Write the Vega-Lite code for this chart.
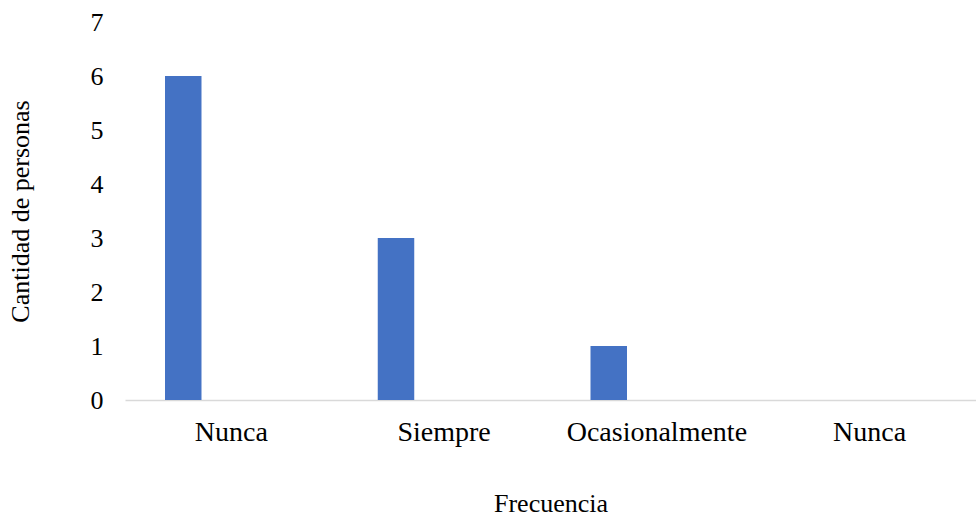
{
  "$schema": "https://vega.github.io/schema/vega-lite/v6.json",
  "autosize": {"type": "none"},
  "padding": {"left": 125, "top": 22, "right": 0, "bottom": 119},
  "width": 851,
  "height": 378,
  "background": "white",
  "config": {
    "view": {"stroke": null},
    "font": "Liberation Serif",
    "axis": {"labelFont": "Liberation Serif", "titleFont": "Liberation Serif", "labelColor": "#000000", "titleColor": "#000000", "titleFontWeight": "normal"}
  },
  "data": {
    "values": [
      {"k": "1", "cat": "Nunca", "serie": "s1", "v": 6},
      {"k": "2", "cat": "Siempre", "serie": "s1", "v": 3},
      {"k": "3", "cat": "Ocasionalmente", "serie": "s1", "v": 1},
      {"k": "4", "cat": "Nunca", "serie": "s1", "v": 0}
    ]
  },
  "mark": {"type": "bar", "color": "#4472C4"},
  "encoding": {
    "x": {
      "field": "k",
      "type": "nominal",
      "sort": null,
      "scale": {"paddingInner": 0, "paddingOuter": 0},
      "axis": {
        "title": "Frecuencia",
        "titleFontSize": 26,
        "titlePadding": 44,
        "labelFontSize": 28,
        "labelAngle": 0,
        "labelPadding": 18,
        "labelLimit": 400,
        "labelOverlap": false,
        "ticks": false,
        "domainColor": "#d9d9d9",
        "domainWidth": 1.5,
        "labelExpr": "datum.value == '1' ? 'Nunca' : datum.value == '2' ? 'Siempre' : datum.value == '3' ? 'Ocasionalmente' : 'Nunca'"
      }
    },
    "xOffset": {
      "field": "serie",
      "type": "nominal",
      "scale": {"domain": ["s1", "s2"], "paddingInner": 0.6208, "paddingOuter": 0.4156}
    },
    "y": {
      "field": "v",
      "type": "quantitative",
      "scale": {"domain": [0, 7], "nice": false},
      "axis": {
        "title": "Cantidad de personas",
        "titleFontSize": 26,
        "titlePadding": 57,
        "labelFontSize": 26,
        "labelPadding": 22,
        "labelOverlap": false,
        "labelFlush": false,
        "values": [0, 1, 2, 3, 4, 5, 6, 7],
        "ticks": false,
        "domain": false,
        "grid": false
      }
    }
  }
}
